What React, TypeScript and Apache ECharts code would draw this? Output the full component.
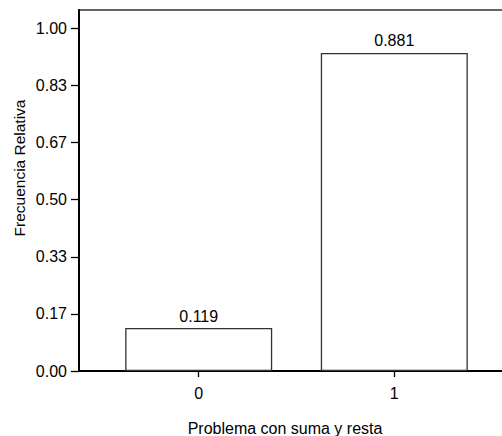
import React, { useEffect, useRef } from "react";
import * as echarts from "echarts";

const categories: string[] = ["0", "1"];
const relFreq: number[] = [0.119, 0.881];
const yTickValues: number[] = [0, 0.1667, 0.3333, 0.5, 0.6667, 0.8333, 1.0];
const yTitle = "Frecuencia Relativa";
const xTitle = "Problema con suma y resta";

// the reference's labelled ticks sit slightly below the bars' own scale
const TICK_SCALE = 0.949;
const FONT = "'Liberation Sans', Arial, sans-serif";
const CHART_W = 530;

export default function App() {
  const ref = useRef<HTMLDivElement>(null);
  useEffect(() => {
    if (!ref.current) return;
    const chart = echarts.init(ref.current, undefined, { renderer: "svg" });
    const catIdx = categories.map((_, i) => i);
    chart.setOption({
      animation: false,
      backgroundColor: "#fff",
      textStyle: { fontFamily: FONT },
      grid: {
        left: 79,
        top: 10,
        right: CHART_W - 514,
        bottom: 65,
        show: true,
        borderColor: "#333",
        borderWidth: 1.5,
        backgroundColor: "#fff",
        outerBoundsMode: "none",
      },
      xAxis: {
        type: "value",
        min: -0.612,
        max: 1.612,
        splitLine: { show: false },
        axisLine: { show: true, onZero: false, lineStyle: { color: "#000", width: 2 } },
        axisTick: { show: true, customValues: catIdx, length: 6, lineStyle: { color: "#000", width: 1.3 } },
        axisLabel: {
          customValues: catIdx,
          formatter: (v: number) => categories[Math.round(v)] ?? "",
          fontSize: 16,
          color: "#000",
          margin: 14,
          fontFamily: FONT,
        },
      },
      yAxis: {
        type: "value",
        min: 0,
        max: 1,
        splitLine: { show: false },
        axisLine: { show: true, onZero: false, lineStyle: { color: "#000", width: 2 } },
        axisTick: {
          show: true,
          customValues: yTickValues.map((v) => v * TICK_SCALE),
          length: 8,
          lineStyle: { color: "#000", width: 1.3 },
        },
        axisLabel: {
          customValues: yTickValues.map((v) => v * TICK_SCALE),
          formatter: (v: number) => (v / TICK_SCALE).toFixed(2),
          fontSize: 16,
          color: "#000",
          margin: 12,
          fontFamily: FONT,
        },
      },
      series: [
        {
          type: "bar",
          data: relFreq.map((v, i) => [i, v]),
          barWidth: 147,
          itemStyle: { color: "#fff", borderColor: "#333", borderWidth: 1.3 },
          label: {
            show: true,
            position: "top",
            distance: 4,
            formatter: (p: any) => Number(p.value[1]).toFixed(3),
            fontSize: 16,
            color: "#000",
            fontFamily: FONT,
          },
        },
      ],
      graphic: [
        {
          type: "text",
          x: 19,
          y: 168,
          rotation: Math.PI / 2,
          style: {
            text: yTitle,
            fontSize: 15.5,
            fontFamily: FONT,
            fill: "#000",
            align: "center",
            verticalAlign: "middle",
          },
        },
        {
          type: "text",
          x: 285,
          y: 428,
          style: {
            text: xTitle,
            fontSize: 16,
            fontFamily: FONT,
            fill: "#000",
            align: "center",
            verticalAlign: "middle",
          },
        },
      ],
    });
    return () => chart.dispose();
  }, []);
  return (
    <div
      style={{ position: "fixed", left: 0, top: 0, width: 502, height: 436, overflow: "hidden", background: "#fff" }}
    >
      <div ref={ref} style={{ width: CHART_W, height: 436 }} />
    </div>
  );
}
